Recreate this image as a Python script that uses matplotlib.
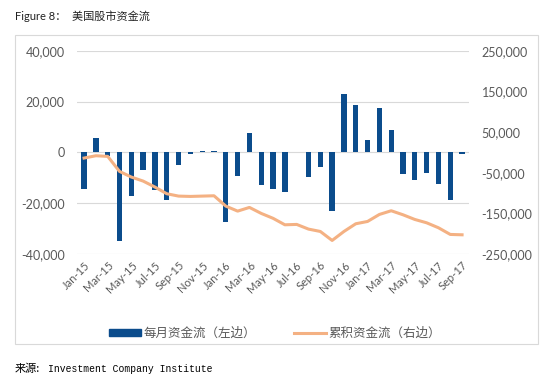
import matplotlib
matplotlib.use('Agg')
import matplotlib.pyplot as plt
import matplotlib.patches as mpatches
from matplotlib.lines import Line2D
from matplotlib.ticker import FuncFormatter
import pandas as pd

plt.rcParams['font.family'] = ['Lato', 'Noto Sans CJK SC', 'DejaVu Sans']

# month labels Jan-15 .. Sep-17
months = list(pd.date_range('2015-01-01', '2017-09-01', freq='MS').strftime('%b-%y'))

# monthly flows (left axis)
monthly_flow = [-14400, 5600, -1500, -34800, -17200, -7100, -14900, -18700, -4800, -800, 650, 400,
                -27300, -9200, 7800, -12700, -14300, -15400, 100, -9800, -5800, -23000, 23000, 18800,
                5000, 17500, 8900, -8400, -10700, -8000, -12300, -18800, -800]

# cumulative flows (right axis)
cumulative_flow = [-13900, -8200, -9800, -46700, -60600, -70500, -85200, -101600, -107400, -108200, -107400, -106600,
                   -132000, -144300, -135200, -150000, -162000, -177900, -177000, -188500, -194300, -216400, -194300, -175400,
                   -169700, -152500, -143400, -153300, -164800, -173000, -185200, -201600, -202500]

bar_color = '#0B4C8C'
line_color = '#F4B183'
text_color = '#595959'
grid_color = '#D9D9D9'

fig = plt.figure(figsize=(5.5, 3.81), dpi=100)

# grey frame round the chart
frame = mpatches.Rectangle((0.0265, 0.097), 0.952, 0.811, transform=fig.transFigure,
                           fill=False, edgecolor='#D9D9D9', linewidth=0.8)
fig.patches.append(frame)

ax = fig.add_axes([0.14, 0.333, 0.713, 0.534])
x = list(range(len(months)))
ax.bar(x, monthly_flow, width=0.45, color=bar_color, zorder=3)
ax.set_ylim(-40000, 40000)
ax.set_yticks([-40000, -20000, 0, 20000, 40000])
ax.yaxis.set_major_formatter(FuncFormatter(lambda v, p: f'{int(v):,}'))
ax.set_xlim(-0.6, len(months) - 0.4)
ax.set_xticks(x[::2])
ax.set_xticklabels(months[::2], rotation=45, ha='right', rotation_mode='anchor')
ax.grid(axis='y', color=grid_color, linewidth=0.8, zorder=0)
ax.tick_params(axis='both', length=0, colors=text_color)
ax.tick_params(axis='y', labelsize=9, pad=9)
ax.tick_params(axis='x', labelsize=8, pad=4)
for s in ax.spines.values():
    s.set_visible(False)

ax2 = ax.twinx()
ax2.plot(x, cumulative_flow, color=line_color, linewidth=2.2, zorder=4)
ax2.set_ylim(-250000, 250000)
ax2.set_yticks([-250000, -150000, -50000, 50000, 150000, 250000])
ax2.yaxis.set_major_formatter(FuncFormatter(lambda v, p: f'{int(v):,}'))
ax2.tick_params(axis='y', length=0, colors=text_color, labelsize=9, pad=9)
for s in ax2.spines.values():
    s.set_visible(False)

handles = [mpatches.Patch(color=bar_color), Line2D([0], [0], color=line_color, linewidth=2.2)]
fig.legend(handles, ['每月资金流（左边）', '累积资金流（右边）'], loc='center', ncol=2,
           bbox_to_anchor=(0.5, 0.126), frameon=False, fontsize=9, labelcolor=text_color,
           handlelength=2.6, handleheight=0.5, columnspacing=3, handletextpad=0.2)

fig.text(0.027, 0.958, 'Figure 8：  美国股市资金流', fontsize=8, va='center', color='#222222')
fig.text(0.027, 0.031, '来源:', fontsize=8, va='center', family=['Noto Sans CJK SC'])
fig.text(0.087, 0.031, 'Investment Company Institute', fontsize=7, va='center',
         family=['Liberation Mono'])

fig.savefig('out.png', dpi=100)
